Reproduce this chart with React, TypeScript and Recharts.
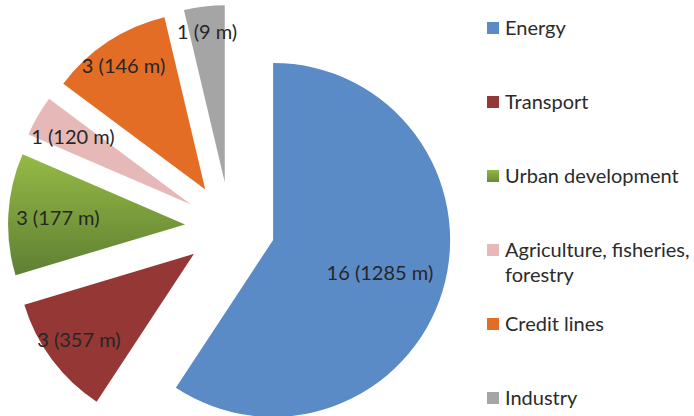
import { PieChart, Pie, Cell, Legend, Sector } from 'recharts'

const sectors = [
  'Energy',
  'Transport',
  'Urban development',
  'Agriculture, fisheries, forestry',
  'Credit lines',
  'Industry',
]
const projects = [16, 3, 3, 1, 3, 1]
const amounts = [1285, 357, 177, 120, 146, 9]

const fills = ['#5B8BC7', '#953735', 'url(#urbanFill)', '#E6B9B8', '#E46D26', '#A5A5A5']
const swatches = ['#5B8BC7', '#953735', 'linear-gradient(#93B744, #6A8A35)', '#E6B9B8', '#E46D26', '#A5A5A5']
// how far out each label sits, as a share of the radius
const labelReach = [0.63, 0.81, 0.72, 0.77, 0.84, 0.86]

const RAD = Math.PI / 180
const EXPLODE = 45
const FONT = 'Lato, "Open Sans", sans-serif'

const data = sectors.map((name, i) => ({ name, projects: projects[i], amount: amounts[i] }))

function ExplodedSlice(props: any) {
  const { cx, cy, midAngle } = props
  return (
    <Sector
      {...props}
      cx={cx + EXPLODE * Math.cos(-midAngle * RAD)}
      cy={cy + EXPLODE * Math.sin(-midAngle * RAD)}
      stroke="none"
    />
  )
}

function SliceLabel(props: any) {
  const { cx, cy, midAngle, outerRadius, index } = props
  const r = EXPLODE + outerRadius * labelReach[index]
  const x = cx + r * Math.cos(-midAngle * RAD)
  const y = cy + r * Math.sin(-midAngle * RAD)
  return (
    <text
      x={x}
      y={y}
      textAnchor="middle"
      dominantBaseline="central"
      fill="#262626"
      fontSize={20}
      fontFamily={FONT}
    >
      {`${projects[index]} (${amounts[index]} m)`}
    </text>
  )
}

function SectorLegend() {
  return (
    <div style={{ fontFamily: FONT, fontSize: 20, color: '#2b2b2b', lineHeight: '25px' }}>
      {sectors.map((name, i) => (
        <div key={name} style={{ display: 'flex', alignItems: 'flex-start', height: 74 }}>
          <span
            style={{
              width: 12,
              height: 12,
              marginTop: 7,
              marginRight: 6,
              flex: 'none',
              background: swatches[i],
            }}
          />
          <span style={{ width: 188 }}>{name}</span>
        </div>
      ))}
    </div>
  )
}

export default function App() {
  return (
    <div style={{ position: 'absolute', left: 0, top: 0, background: '#fff' }}>
      <PieChart width={694} height={416} margin={{ top: 0, right: 0, bottom: 0, left: 0 }}>
        <defs>
          <linearGradient id="urbanFill" x1="0" y1="0" x2="0" y2="1">
            <stop offset="0%" stopColor="#95BA45" />
            <stop offset="100%" stopColor="#5F7F33" />
          </linearGradient>
        </defs>
        <Pie
          data={data}
          dataKey="projects"
          nameKey="name"
          cx={230}
          cy={227}
          outerRadius={177}
          startAngle={90}
          endAngle={-270}
          stroke="none"
          shape={ExplodedSlice}
          label={SliceLabel}
          labelLine={false}
          isAnimationActive={false}
        >
          {data.map((d, i) => (
            <Cell key={d.name} fill={fills[i]} />
          ))}
        </Pie>
        <Legend
          layout="vertical"
          align="right"
          verticalAlign="top"
          wrapperStyle={{ left: 487, top: 15, width: 207 }}
          content={SectorLegend}
        />
      </PieChart>
    </div>
  )
}
